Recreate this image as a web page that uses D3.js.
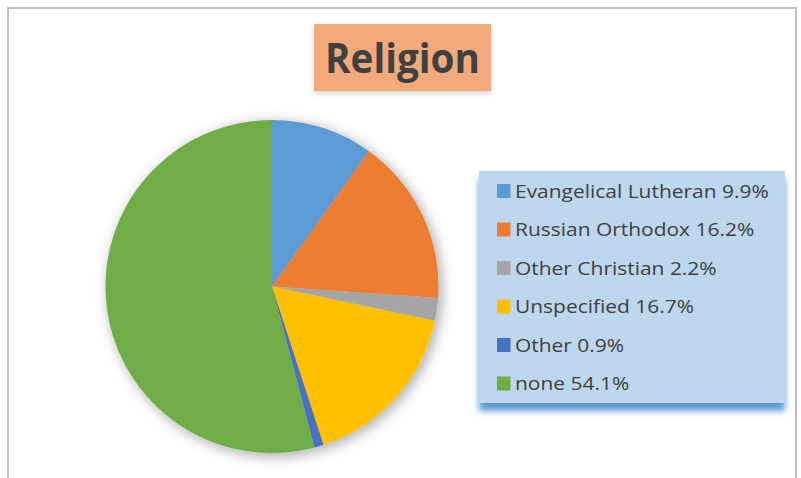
<!DOCTYPE html>
<html><head><meta charset="utf-8">
<script src="https://cdn.jsdelivr.net/npm/d3@7"></script>
<style>body{margin:0;background:#fff;}svg{display:block;}</style>
</head><body>
<svg id="c" width="801" height="478"></svg>
<script>
const categories = ["Evangelical Lutheran", "Russian Orthodox", "Other Christian", "Unspecified", "Other", "none"];
const values = [9.9, 16.2, 2.2, 16.7, 0.9, 54.1];
const colors = ["#5B9BD5", "#ED7D31", "#A5A5A5", "#FFC000", "#4472C4", "#70AD47"];
const title = "Religion";

const svg = d3.select("#c");
const defs = svg.append("defs");
const f1 = defs.append("filter").attr("id","pieShadow").attr("x","-30%").attr("y","-30%").attr("width","160%").attr("height","160%");
f1.append("feGaussianBlur").attr("in","SourceAlpha").attr("stdDeviation",7).attr("result","b");
f1.append("feOffset").attr("in","b").attr("dx",3).attr("dy",3).attr("result","o");
f1.append("feComponentTransfer").attr("in","o").attr("result","o2").append("feFuncA").attr("type","linear").attr("slope",0.35);
const m1 = f1.append("feMerge"); m1.append("feMergeNode").attr("in","o2"); m1.append("feMergeNode").attr("in","SourceGraphic");

const f2 = defs.append("filter").attr("id","legShadow").attr("x","-10%").attr("y","-10%").attr("width","120%").attr("height","130%");
f2.append("feGaussianBlur").attr("in","SourceAlpha").attr("stdDeviation",3).attr("result","b");
f2.append("feFlood").attr("flood-color","#5B9BD5").attr("result","c");
f2.append("feComposite").attr("in","c").attr("in2","b").attr("operator","in").attr("result","s");
f2.append("feOffset").attr("in","s").attr("dx",0).attr("dy",8).attr("result","o");
const m2 = f2.append("feMerge"); m2.append("feMergeNode").attr("in","o"); m2.append("feMergeNode").attr("in","SourceGraphic");

const t1 = defs.append("filter").attr("id","titleShadow").attr("x","-20%").attr("y","-20%").attr("width","140%").attr("height","160%");
t1.append("feGaussianBlur").attr("in","SourceAlpha").attr("stdDeviation",3).attr("result","b");
t1.append("feOffset").attr("in","b").attr("dx",0).attr("dy",3).attr("result","o");
t1.append("feComponentTransfer").attr("in","o").attr("result","o2").append("feFuncA").attr("type","linear").attr("slope",0.15);
const m3 = t1.append("feMerge"); m3.append("feMergeNode").attr("in","o2"); m3.append("feMergeNode").attr("in","SourceGraphic");

// chart frame
svg.append("path").attr("d","M8,478 L8,8 L796,8 L796,478")
  .attr("fill","none").attr("stroke","#BFBFBF").attr("stroke-width",2);

// title
svg.append("rect").attr("x",314).attr("y",24).attr("width",177).attr("height",67)
  .attr("fill","#F4A97A").attr("filter","url(#titleShadow)");
const tt = svg.append("text").attr("x",402.5).attr("y",73.5).attr("text-anchor","middle")
  .attr("font-family","'Open Sans', 'Liberation Sans', sans-serif").attr("font-weight","bold")
  .attr("font-size",41).attr("fill","#404040").text(title);
{ const w = tt.node().getComputedTextLength(); const s = 155/w;
  tt.attr("transform",`translate(402.5,0) scale(${s},1) translate(-402.5,0)`); }

// pie
const cx = 272, cy = 286.5, r = 166.5;
const pie = d3.pie().sort(null).value(d => d)(values);
const arc = d3.arc().innerRadius(0).outerRadius(r);
const g = svg.append("g").attr("transform",`translate(${cx},${cy})`).attr("filter","url(#pieShadow)");
g.selectAll("path").data(pie).join("path").attr("d",arc).attr("fill",(d,i)=>colors[i]);

// legend
const lx = 479, ly = 171, lw = 306, lh = 232;
svg.append("rect").attr("x",lx).attr("y",ly).attr("width",lw).attr("height",lh)
  .attr("fill","#BDD7EE").attr("filter","url(#legShadow)");
const rowY = d3.scalePoint().domain(categories).range([191, 383.5]);
const lg = svg.append("g");
const tg = lg.append("g");
categories.forEach((c,i) => {
  const y = rowY(c);
  lg.append("rect").attr("x",497).attr("y",y-7).attr("width",13.5).attr("height",14).attr("fill",colors[i]);
  tg.append("text").attr("x",515).attr("y",y+7).attr("font-family","'Open Sans', 'Liberation Sans', sans-serif")
    .attr("font-size",18.5).attr("fill","#404040")
    .text(`${c} ${values[i].toFixed(1)}%`);
});
{ const n = tg.select("text").node(); const w = n.getComputedTextLength(); const s = 254/w;
  tg.attr("transform",`translate(515,0) scale(${s},1) translate(-515,0)`); }
</script>
</body></html>
